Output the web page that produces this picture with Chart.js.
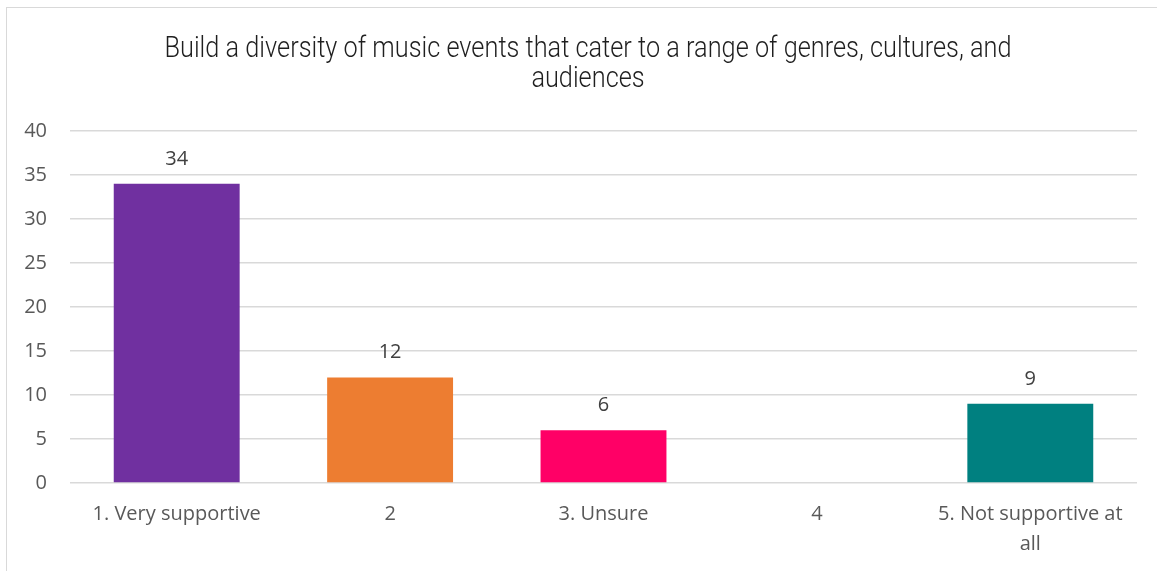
<!DOCTYPE html>
<html>
<head>
<meta charset="utf-8">
<script src="https://cdn.jsdelivr.net/npm/chart.js@4.4.1/dist/chart.umd.min.js"></script>
<style>
  html, body { margin: 0; padding: 0; background: #fff; }
  #wrap { position: relative; width: 1157px; height: 571px; overflow: hidden; }
  #frame {
    position: absolute; left: 6px; top: 7px; width: 1200px; height: 600px;
    border-left: 1.5px solid #d9d9d9; border-top: 1.5px solid #d9d9d9;
  }
  canvas { position: absolute; left: 0; top: 0; }
</style>
</head>
<body>
<div id="wrap">
  <div id="frame"></div>
  <canvas id="chart" width="1157" height="571"></canvas>
</div>
<script>
// chart data
const categories = [
  "1. Very supportive",
  "2",
  "3. Unsure",
  "4",
  ["5. Not supportive at", "all"],
];
const responses = [34, 12, 6, null, 9];
const barColors = ["#7030A0", "#ED7D31", "#FF0066", "#A5A5A5", "#008080"];
const titleLines = [
  "Build a diversity of music events that cater to a range of genres, cultures, and",
  "audiences",
];
const yMin = 0;
const yMax = 40;
const yStep = 5;

// title drawn by hand so the condensed look can be squeezed to width
const titlePlugin = {
  id: "condensedTitle",
  afterDraw(chart) {
    const ctx = chart.ctx;
    ctx.save();
    ctx.font = "300 30px 'Liberation Sans Narrow', Roboto, sans-serif";
    ctx.fillStyle = "#1f1f1f";
    ctx.textAlign = "center";
    ctx.textBaseline = "alphabetic";
    const w = ctx.measureText(titleLines[0]).width;
    const sx = 847 / w;
    const cx = 588;
    titleLines.forEach((line, i) => {
      ctx.save();
      ctx.translate(cx, 57 + i * 30);
      ctx.scale(sx, 1);
      ctx.fillText(line, 0, 0);
      ctx.restore();
    });
    ctx.restore();
  },
};

// value labels above bars
const valueLabels = {
  id: "valueLabels",
  afterDatasetsDraw(chart) {
    const ctx = chart.ctx;
    const meta = chart.getDatasetMeta(0);
    ctx.save();
    ctx.font = "20px 'Open Sans', sans-serif";
    ctx.fillStyle = "#404040";
    ctx.textAlign = "center";
    ctx.textBaseline = "alphabetic";
    meta.data.forEach((bar, i) => {
      const v = chart.data.datasets[0].data[i];
      if (v === null || v === undefined) return;
      ctx.fillText(String(v), bar.x, bar.y - 19);
    });
    ctx.restore();
  },
};

const ctx = document.getElementById("chart").getContext("2d");
new Chart(ctx, {
  type: "bar",
  data: {
    labels: categories,
    datasets: [
      {
        data: responses,
        backgroundColor: barColors,
        borderWidth: 0,
        categoryPercentage: 1,
        barPercentage: 0.59,
      },
    ],
  },
  options: {
    responsive: false,
    animation: false,
    devicePixelRatio: 1,
    layout: {
      padding: { left: 6, right: 20, top: 131, bottom: 0 },
    },
    plugins: {
      legend: { display: false },
      title: { display: false },
      tooltip: { enabled: false },
    },
    scales: {
      x: {
        grid: { display: false },
        border: { display: false },
        ticks: {
          color: "#595959",
          font: { family: "'Open Sans', sans-serif", size: 20, lineHeight: "30px" },
          padding: 8,
          maxRotation: 0,
          autoSkip: false,
        },
        afterFit(scale) {
          scale.height = 88;
        },
      },
      y: {
        min: yMin,
        max: yMax,
        grid: { color: "#d9d9d9", lineWidth: 1.5, drawTicks: false },
        border: { display: false },
        ticks: {
          stepSize: yStep,
          color: "#595959",
          font: { family: "'Open Sans', sans-serif", size: 20 },
          padding: 23,
        },
        afterFit(scale) {
          scale.width = 64;
        },
      },
    },
  },
  plugins: [titlePlugin, valueLabels],
});
</script>
</body>
</html>
